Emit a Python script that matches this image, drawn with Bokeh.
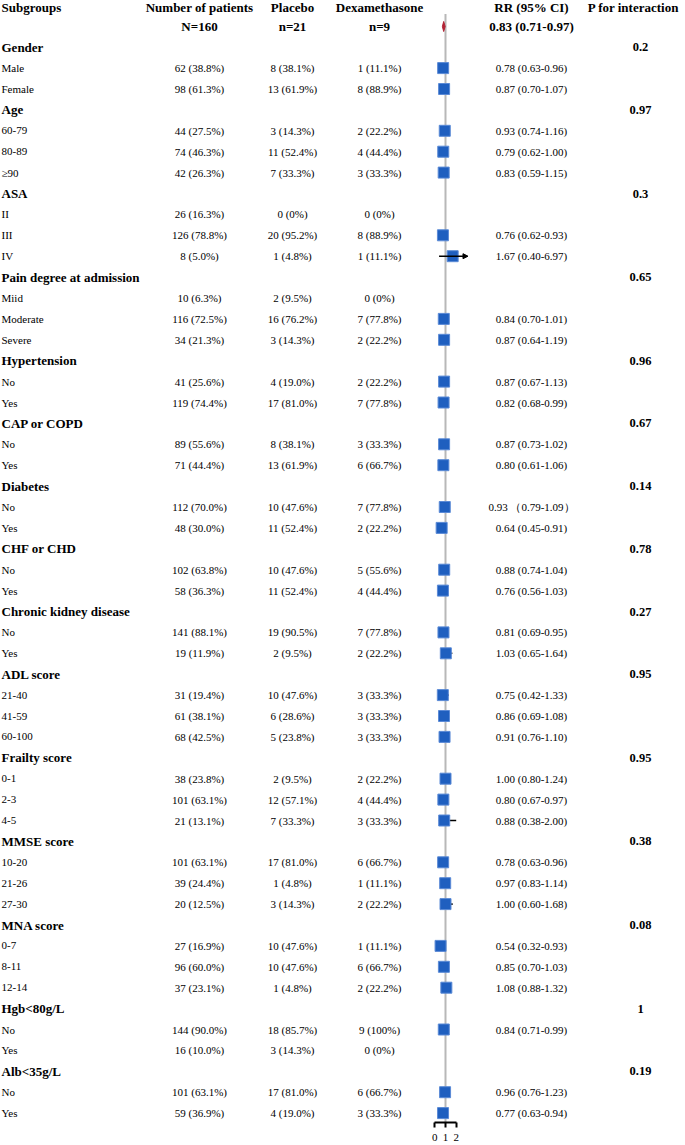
from bokeh.plotting import figure
from bokeh.models import Range1d, LinearAxis, FixedTicker, ColumnDataSource, Arrow, NormalHead
from bokeh.core.properties import value
from bokeh.embed import file_html
from bokeh.resources import INLINE

# ---------------- data ----------------
groups = ["Gender", "Age", "ASA", "Pain degree at admission", "Hypertension", "CAP or COPD",
          "Diabetes", "CHF or CHD", "Chronic kidney disease", "ADL score", "Frailty score",
          "MMSE score", "MNA score", "Hgb<80g/L", "Alb<35g/L"]
p_interaction = ["0.2", "0.97", "0.3", "0.65", "0.96", "0.67", "0.14", "0.78", "0.27",
                 "0.95", "0.95", "0.38", "0.08", "1", "0.19"]
group_sizes = [2, 3, 3, 3, 2, 2, 2, 2, 2, 3, 3, 3, 3, 2, 2]

level_labels = ["Male", "Female",
                "60-79", "80-89", "\u226590",
                "II", "III", "IV",
                "Miid", "Moderate", "Severe",
                "No", "Yes",
                "No", "Yes",
                "No", "Yes",
                "No", "Yes",
                "No", "Yes",
                "21-40", "41-59", "60-100",
                "0-1", "2-3", "4-5",
                "10-20", "21-26", "27-30",
                "0-7", "8-11", "12-14",
                "No", "Yes",
                "No", "Yes"]
n_patients = ["62 (38.8%)", "98 (61.3%)",
              "44 (27.5%)", "74 (46.3%)", "42 (26.3%)",
              "26 (16.3%)", "126 (78.8%)", "8 (5.0%)",
              "10 (6.3%)", "116 (72.5%)", "34 (21.3%)",
              "41 (25.6%)", "119 (74.4%)",
              "89 (55.6%)", "71 (44.4%)",
              "112 (70.0%)", "48 (30.0%)",
              "102 (63.8%)", "58 (36.3%)",
              "141 (88.1%)", "19 (11.9%)",
              "31 (19.4%)", "61 (38.1%)", "68 (42.5%)",
              "38 (23.8%)", "101 (63.1%)", "21 (13.1%)",
              "101 (63.1%)", "39 (24.4%)", "20 (12.5%)",
              "27 (16.9%)", "96 (60.0%)", "37 (23.1%)",
              "144 (90.0%)", "16 (10.0%)",
              "101 (63.1%)", "59 (36.9%)"]
n_placebo = ["8 (38.1%)", "13 (61.9%)",
             "3 (14.3%)", "11 (52.4%)", "7 (33.3%)",
             "0 (0%)", "20 (95.2%)", "1 (4.8%)",
             "2 (9.5%)", "16 (76.2%)", "3 (14.3%)",
             "4 (19.0%)", "17 (81.0%)",
             "8 (38.1%)", "13 (61.9%)",
             "10 (47.6%)", "11 (52.4%)",
             "10 (47.6%)", "11 (52.4%)",
             "19 (90.5%)", "2 (9.5%)",
             "10 (47.6%)", "6 (28.6%)", "5 (23.8%)",
             "2 (9.5%)", "12 (57.1%)", "7 (33.3%)",
             "17 (81.0%)", "1 (4.8%)", "3 (14.3%)",
             "10 (47.6%)", "10 (47.6%)", "1 (4.8%)",
             "18 (85.7%)", "3 (14.3%)",
             "17 (81.0%)", "4 (19.0%)"]
n_dexa = ["1 (11.1%)", "8 (88.9%)",
          "2 (22.2%)", "4 (44.4%)", "3 (33.3%)",
          "0 (0%)", "8 (88.9%)", "1 (11.1%)",
          "0 (0%)", "7 (77.8%)", "2 (22.2%)",
          "2 (22.2%)", "7 (77.8%)",
          "3 (33.3%)", "6 (66.7%)",
          "7 (77.8%)", "2 (22.2%)",
          "5 (55.6%)", "4 (44.4%)",
          "7 (77.8%)", "2 (22.2%)",
          "3 (33.3%)", "3 (33.3%)", "3 (33.3%)",
          "2 (22.2%)", "4 (44.4%)", "3 (33.3%)",
          "6 (66.7%)", "1 (11.1%)", "2 (22.2%)",
          "1 (11.1%)", "6 (66.7%)", "2 (22.2%)",
          "9 (100%)", "0 (0%)",
          "6 (66.7%)", "3 (33.3%)"]
rr = [0.78, 0.87,
      0.93, 0.79, 0.83,
      None, 0.76, 1.67,
      None, 0.84, 0.87,
      0.87, 0.82,
      0.87, 0.80,
      0.93, 0.64,
      0.88, 0.76,
      0.81, 1.03,
      0.75, 0.86, 0.91,
      1.00, 0.80, 0.88,
      0.78, 0.97, 1.00,
      0.54, 0.85, 1.08,
      0.84, None,
      0.96, 0.77]
rr_lo = [0.63, 0.70,
         0.74, 0.62, 0.59,
         None, 0.62, 0.40,
         None, 0.70, 0.64,
         0.67, 0.68,
         0.73, 0.61,
         0.79, 0.45,
         0.74, 0.56,
         0.69, 0.65,
         0.42, 0.69, 0.76,
         0.80, 0.67, 0.38,
         0.63, 0.83, 0.60,
         0.32, 0.70, 0.88,
         0.71, None,
         0.76, 0.63]
rr_hi = [0.96, 1.07,
         1.16, 1.00, 1.15,
         None, 0.93, 6.97,
         None, 1.01, 1.19,
         1.13, 0.99,
         1.02, 1.06,
         1.09, 0.91,
         1.04, 1.03,
         0.95, 1.64,
         1.33, 1.08, 1.10,
         1.24, 0.97, 2.00,
         0.96, 1.14, 1.68,
         0.93, 1.03, 1.32,
         0.99, None,
         1.23, 0.94]
rr_text = ["0.78 (0.63-0.96)", "0.87 (0.70-1.07)",
           "0.93 (0.74-1.16)", "0.79 (0.62-1.00)", "0.83 (0.59-1.15)",
           "", "0.76 (0.62-0.93)", "1.67 (0.40-6.97)",
           "", "0.84 (0.70-1.01)", "0.87 (0.64-1.19)",
           "0.87 (0.67-1.13)", "0.82 (0.68-0.99)",
           "0.87 (0.73-1.02)", "0.80 (0.61-1.06)",
           "0.93 \uff080.79-1.09\uff09", "0.64 (0.45-0.91)",
           "0.88 (0.74-1.04)", "0.76 (0.56-1.03)",
           "0.81 (0.69-0.95)", "1.03 (0.65-1.64)",
           "0.75 (0.42-1.33)", "0.86 (0.69-1.08)", "0.91 (0.76-1.10)",
           "1.00 (0.80-1.24)", "0.80 (0.67-0.97)", "0.88 (0.38-2.00)",
           "0.78 (0.63-0.96)", "0.97 (0.83-1.14)", "1.00 (0.60-1.68)",
           "0.54 (0.32-0.93)", "0.85 (0.70-1.03)", "1.08 (0.88-1.32)",
           "0.84 (0.71-0.99)", "",
           "0.96 (0.76-1.23)", "0.77 (0.63-0.94)"]

header_labels = ["Subgroups", "Number of patients", "Placebo", "Dexamethasone", "RR (95% CI)", "P for interaction"]
total_labels = ["N=160", "n=21", "n=9"]
overall_rr, overall_lo, overall_hi = 0.83, 0.71, 0.97
overall_text = "0.83 (0.71-0.97)"
rr_ticks = [0, 1, 2]

# ---------------- layout (pixel units) ----------------
FONT = value("Liberation Serif")
W, H = 685, 1145
BOTTOM = 23
FRAME_H = H - BOTTOM
ROW = 20.9           # row pitch in px
Y_FIRST = 46.7       # first group row, px from top
HEADER_Y = (7 - Y_FIRST) / ROW
TOTAL_Y = (26 - Y_FIRST) / ROW
X_LABEL, X_N, X_PLA, X_DEX, X_RR, X_P = 1, 199, 292, 379, 531, 640
X_PHEAD = 633
RR0_PX, RR_UNIT_PX = 434.3, 10.7
DISPLAY_MAX = 3.1
SQ_COLOR = "#1F5FBF"

# row positions
head_y, lev_y = [], []
i = 0
for sz in group_sizes:
    head_y.append(i)
    lev_y.extend(range(i + 1, i + 1 + sz))
    i += sz + 1

Y_BOTTOM = (FRAME_H - Y_FIRST) / ROW
p = figure(width=W, height=H, output_backend="svg", toolbar_location=None,
           x_range=Range1d(0, W),
           y_range=Range1d(Y_BOTTOM, -Y_FIRST / ROW),
           x_axis_location=None, y_axis_location=None,
           min_border_left=0, min_border_right=0, min_border_top=0, min_border_bottom=BOTTOM)
p.grid.visible = False
p.outline_line_color = None
p.background_fill_color = "white"
p.border_fill_color = "white"
p.extra_x_ranges = {"rr": Range1d(-RR0_PX / RR_UNIT_PX, (W - RR0_PX) / RR_UNIT_PX)}

# --- header texts
hx = [X_LABEL, X_N, X_PLA, X_DEX, X_RR, X_PHEAD]
halign = ["left", "center", "center", "center", "center", "center"]
p.text(x=hx, y=[HEADER_Y] * 6, text=header_labels, text_align=halign, text_baseline="middle",
       text_font=FONT, text_font_style="bold", text_font_size="13px", text_color="black")
p.text(x=[X_N, X_PLA, X_DEX, X_RR], y=[TOTAL_Y] * 4, text=total_labels + [overall_text],
       text_align="center", text_baseline="middle",
       text_font=FONT, text_font_style="bold", text_font_size="13px", text_color="black")

# --- group headings and p values
p.text(x=[X_LABEL] * len(groups), y=head_y, text=groups, text_align="left", text_baseline="middle",
       text_font=FONT, text_font_style="bold", text_font_size="13px", text_color="black")
p.text(x=[X_P] * len(groups), y=head_y, text=p_interaction, text_align="center", text_baseline="middle",
       text_font=FONT, text_font_style="bold", text_font_size="12.5px", text_color="black")

# --- level rows
lev_src = ColumnDataSource(dict(y=lev_y, label=level_labels, n=n_patients, pla=n_placebo,
                                dex=n_dexa, rrt=rr_text))
common = dict(y="y", source=lev_src, text_baseline="middle", text_font=FONT,
              text_font_size="11px", text_color="black")
p.text(x=X_LABEL, text="label", text_align="left", **common)
p.text(x=X_N, text="n", text_align="center", **common)
p.text(x=X_PLA, text="pla", text_align="center", **common)
p.text(x=X_DEX, text="dex", text_align="center", **common)
p.text(x=X_RR, text="rrt", text_align="center", **common)

# --- forest part
p.segment(x0=1, x1=1, y0=TOTAL_Y - 0.6, y1=Y_BOTTOM, line_color="#b8b8b8",
          line_width=2, x_range_name="rr")

fy, fe = [], []
ci_y, ci_lo, ci_hi = [], [], []
arr_y, arr_lo = [], []
for y, e, lo, hi in zip(lev_y, rr, rr_lo, rr_hi):
    if e is None:
        continue
    fy.append(y); fe.append(e)
    if hi > DISPLAY_MAX:
        arr_y.append(y); arr_lo.append(lo)
    else:
        ci_y.append(y); ci_lo.append(lo); ci_hi.append(hi)
ci_src = ColumnDataSource(dict(y=ci_y, lo=ci_lo, hi=ci_hi))
p.segment(x0="lo", x1="hi", y0="y", y1="y", source=ci_src, line_color="black", line_width=1.5,
          x_range_name="rr")
arr_src = ColumnDataSource(dict(y=arr_y, lo=arr_lo, hi=[DISPLAY_MAX] * len(arr_y)))
p.add_layout(Arrow(x_start="lo", x_end="hi", y_start="y", y_end="y", source=arr_src,
                   line_color="black", line_width=1.5,
                   end=NormalHead(size=5, fill_color="black", line_color="black"),
                   x_range_name="rr"))
p.scatter(x=fe, y=fy, marker="square", size=11, fill_color=SQ_COLOR, line_color="#5b8ad6",
          line_width=1, x_range_name="rr")

# overall diamond
h = 0.24
p.patch(x=[overall_lo, overall_rr, overall_hi, overall_rr], y=[TOTAL_Y, TOTAL_Y - h, TOTAL_Y, TOTAL_Y + h],
        fill_color="#B22234", line_color="#B22234", line_width=1, x_range_name="rr")

ax = LinearAxis(x_range_name="rr", ticker=FixedTicker(ticks=rr_ticks), bounds=(0, 2),
                major_tick_in=0, major_tick_out=5, minor_tick_line_color=None,
                axis_line_width=2, major_tick_line_width=2, axis_line_color="black",
                major_tick_line_color="black",
                major_label_text_font="Liberation Serif", major_label_text_font_size="11px",
                major_label_standoff=6, major_label_text_color="black")
p.add_layout(ax, "below")

open("out.html", "w").write(file_html(p, INLINE))
